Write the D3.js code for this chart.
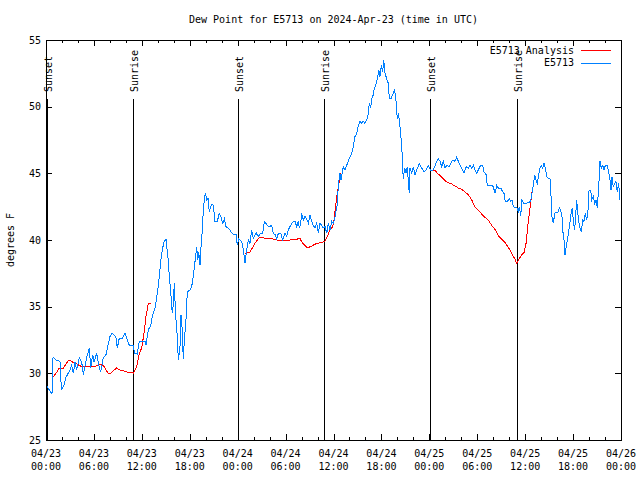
<!DOCTYPE html>
<html>
<head>
<meta charset="utf-8">
<script src="https://cdn.jsdelivr.net/npm/d3@7"></script>
<style>
  html, body { margin: 0; padding: 0; background: #fff; }
  svg { display: block; }
  text { font-family: "DejaVu Sans Mono", "Liberation Mono", monospace; font-size: 10px; fill: #000; }
</style>
</head>
<body>
<svg id="chart" width="640" height="480"></svg>
<script>
// ---------------- DATA ----------------
const title = "Dew Point for E5713 on 2024-Apr-23 (time in UTC)";
const yLabel = "degrees F";
const startUTC = Date.UTC(2024, 3, 23, 0, 0);   // 04/23 00:00 UTC
const spanHours = 72;
const yTicks = [25, 30, 35, 40, 45, 50, 55];
const seriesNames = ["E5713 Analysis", "E5713"];
const seriesColors = ["#ff0000", "#0080ff"];

// Observations (hours after start, degrees F)
const obsHours = [0.13,0.75,0.88,1.25,1.75,1.84,2.0,2.25,2.5,3.0,3.22,3.42,3.63,3.84,4.17,4.47,4.67,5.1,5.42,5.6,5.85,6.0,6.35,6.6,6.85,7.17,7.51,7.68,8.01,8.23,8.51,8.77,8.93,9.18,9.6,9.89,10.18,10.43,10.93,11.1,11.43,11.68,11.98,12.4,12.52,12.81,13.11,13.36,13.65,13.94,14.19,14.36,14.61,14.81,15.03,15.11,15.31,15.44,15.61,15.74,15.87,15.94,16.07,16.15,16.28,16.44,16.57,16.78,16.9,17.03,17.19,17.32,17.53,17.69,18.03,18.24,18.44,18.66,18.87,19.0,19.12,19.28,19.41,19.57,19.7,19.82,19.95,20.12,20.29,20.45,20.62,20.79,20.95,21.16,21.45,21.7,21.91,22.13,22.33,22.54,22.83,23.04,23.29,23.54,23.79,23.95,24.13,24.5,24.71,24.92,25.13,25.33,25.54,25.75,25.96,26.3,26.58,26.88,27.13,27.34,27.55,27.71,27.96,28.26,28.46,28.68,28.89,29.09,29.39,29.64,29.93,30.14,30.34,30.55,30.77,30.97,31.18,31.39,31.59,31.72,31.89,32.02,32.22,32.43,32.64,32.85,33.06,33.27,33.47,33.68,33.9,34.1,34.31,34.52,34.72,34.94,35.15,35.35,35.56,35.78,35.98,36.19,36.4,36.48,36.6,36.81,36.94,37.06,37.23,37.44,37.65,37.85,38.07,38.28,38.48,38.69,38.91,39.11,39.32,39.53,39.73,39.94,40.16,40.36,40.48,40.66,40.79,40.99,41.12,41.29,41.49,41.67,41.82,41.99,42.16,42.29,42.45,42.66,42.86,42.99,43.2,43.41,43.66,43.83,43.99,44.11,44.24,44.42,44.58,44.67,44.74,44.92,45.08,45.24,45.37,45.49,45.58,45.79,45.99,46.21,46.42,46.75,47.04,47.33,47.58,47.87,48.17,48.5,48.83,49.12,49.34,49.55,49.75,49.96,50.17,50.5,50.8,51.0,51.21,51.42,51.63,51.84,52.18,52.34,52.59,52.88,53.09,53.31,53.51,53.72,53.93,54.13,54.43,54.68,54.85,55.1,55.26,55.51,55.81,56.01,56.22,56.44,56.64,56.94,57.19,57.35,57.51,57.76,58.01,58.19,58.35,58.52,58.73,58.94,59.14,59.27,59.44,59.6,59.85,60.1,60.39,60.69,60.86,61.02,61.2,61.36,61.52,61.7,61.86,62.02,62.2,62.36,62.52,62.7,62.95,63.11,63.24,63.36,63.53,63.7,63.86,64.11,64.28,64.45,64.61,64.7,64.86,64.99,65.11,65.28,65.45,65.62,65.78,65.9,66.03,66.2,66.33,66.45,66.58,66.7,66.87,67.03,67.21,67.37,67.53,67.71,67.87,68.0,68.21,68.33,68.53,68.71,68.87,69.03,69.21,69.37,69.53,69.71,69.87,70.04,70.29,70.46,70.62,70.75,70.87,71.03,71.21,71.37,71.53,71.71,71.87];
const obsValues = [29.0,28.45,31.2,31.0,30.9,29.5,28.8,29.1,29.7,30.25,30.6,30.0,30.85,30.25,31.15,30.85,29.9,31.2,31.9,30.4,31.4,30.85,31.5,30.6,30.1,31.15,31.4,31.9,32.75,33.0,32.9,32.65,31.9,32.65,32.65,33.0,32.5,32.1,32.1,31.5,31.45,32.4,32.4,32.4,32.1,33.25,33.6,34.4,34.9,36.0,37.25,38.4,39.4,39.9,40.05,39.6,38.5,37.25,36.25,34.9,34.5,35.5,36.75,35.5,34.0,32.75,31.0,32.0,34.4,33.5,31.1,32.5,34.0,36.1,36.25,36.5,37.25,38.4,39.5,38.5,39.1,38.1,39.5,40.75,42.25,43.0,43.55,43.0,43.15,42.1,42.5,42.7,42.6,41.4,41.4,42.0,41.75,41.25,41.6,41.0,40.9,40.75,40.5,40.4,40.45,39.6,40.1,39.9,39.25,38.3,39.25,40.0,39.75,40.75,40.1,40.55,40.25,40.5,40.5,41.4,41.25,41.1,41.0,41.1,40.5,40.4,40.05,40.5,40.5,40.0,40.5,40.25,40.75,41.0,41.25,41.4,41.4,41.0,41.4,40.9,41.25,42.0,41.5,41.75,41.6,41.25,41.9,41.4,41.1,40.9,41.25,40.5,41.25,41.1,40.9,41.0,40.5,41.25,40.75,41.4,41.25,41.75,42.5,42.6,44.1,45.0,44.5,44.9,45.5,45.25,45.6,45.9,46.25,46.5,47.0,47.75,48.0,48.6,48.9,48.75,48.9,48.75,49.0,49.5,50.25,49.9,50.6,50.9,51.4,51.6,52.1,52.75,52.25,53.1,52.6,53.5,52.5,52.1,51.75,50.6,50.6,50.9,51.25,50.4,49.1,49.5,49.0,47.9,46.6,45.25,44.6,45.4,45.0,45.5,44.4,43.5,45.4,45.0,45.5,44.9,45.25,45.75,45.4,45.1,45.25,45.6,45.2,45.25,45.75,46.1,45.9,45.5,45.9,45.4,45.6,45.5,45.9,46.0,45.9,46.2,45.9,45.6,45.25,45.0,45.5,45.4,45.6,45.4,45.6,45.25,45.0,45.25,45.6,45.6,45.1,44.9,44.1,44.1,44.1,44.0,43.5,44.1,43.9,43.9,43.6,43.5,42.9,42.9,43.1,42.9,43.0,42.5,42.4,42.45,42.1,42.5,41.8,43.0,42.75,42.75,42.8,42.9,43.5,44.1,44.9,44.5,44.25,44.9,45.4,45.6,45.4,45.8,45.4,44.75,44.6,44.6,43.25,41.75,41.25,42.0,42.1,42.1,42.4,42.25,41.75,40.75,40.0,38.9,39.4,40.0,40.6,41.4,42.1,42.4,41.4,40.75,41.9,43.0,42.1,41.4,40.9,40.6,41.5,41.4,42.0,41.5,42.25,43.75,43.75,43.0,43.25,42.75,43.0,42.4,44.0,45.9,45.4,45.6,45.25,45.6,45.6,45.1,44.5,43.75,44.75,44.0,44.25,44.4,43.6,44.25,43.0];

// Analysis (null = gap)
const anaHours = [0.84,1.25,1.67,2.17,2.79,3.09,3.42,3.84,4.47,5.1,5.72,6.26,6.76,7.17,7.51,7.8,8.1,8.43,8.85,9.27,9.68,10.18,10.61,10.93,11.14,11.36,11.68,11.98,12.27,12.52,12.81,13.09,18.0,24.92,25.54,26.17,26.71,27.0,27.55,28.26,28.89,29.72,30.55,31.18,31.81,32.14,32.72,33.27,33.9,34.52,34.94,35.22,35.56,35.9,36.06,36.31,36.48,36.88,42.0,48.17,48.71,49.12,49.55,49.96,50.38,50.8,51.21,51.63,52.05,52.47,52.88,53.31,53.72,54.13,54.55,54.96,55.38,55.81,56.22,56.64,57.06,57.48,57.9,58.32,58.73,58.94,59.27,59.6,59.85,60.1,60.26,60.39,60.52,60.69,60.81,60.94];
const anaValues = [29.7,30.0,30.4,30.4,30.95,30.95,30.8,30.7,30.5,30.5,30.5,30.55,30.7,30.6,30.25,30.0,30.0,30.2,30.4,30.25,30.2,30.1,30.1,30.0,30.25,30.5,31.5,31.9,33.0,34.25,35.25,35.25,null,39.0,39.1,39.75,40.2,40.2,40.1,40.1,40.0,40.0,40.0,40.05,40.1,39.75,39.4,39.55,39.75,39.8,39.9,40.25,40.75,41.0,41.5,42.75,43.55,45.0,null,45.2,45.2,44.95,44.7,44.45,44.3,44.2,44.05,43.9,43.8,43.6,43.4,43.0,42.45,42.25,41.95,41.7,41.5,41.1,40.8,40.3,40.05,39.8,39.45,39.0,38.55,38.25,38.6,38.9,39.05,39.7,40.6,41.4,42.0,42.75,43.5,43.75];

// Sun events (hours after start)
const eventHours = [0.08, 10.92, 24.08, 34.8, 48.12, 58.94];
const eventLabels = ["Sunset", "Sunrise", "Sunset", "Sunrise", "Sunset", "Sunrise"];

// ---------------- CHART ----------------
const W = 640, H = 480;
const M = { left: 46, right: 19, top: 40, bottom: 40 };
const x0 = M.left, x1 = W - M.right, y0 = H - M.bottom, y1 = M.top;
const HOUR = 3600 * 1000;
const toDate = h => new Date(startUTC + h * HOUR);

const svg = d3.select("#chart");

const x = d3.scaleUtc().domain([toDate(0), toDate(spanHours)]).range([x0, x1]);
const y = d3.scaleLinear().domain([25, 55]).range([y0, y1]);

const obs = obsHours.map((h, i) => ({ t: toDate(h), v: obsValues[i] }));
const ana = anaHours.map((h, i) => ({ t: toDate(h), v: anaValues[i] }));

// Frame
svg.append("rect").attr("x", x0 + 0.5).attr("y", y1 + 0.5)
  .attr("width", x1 - x0).attr("height", y0 - y1)
  .attr("fill", "none").attr("stroke", "#000").attr("stroke-width", 1)
  .attr("shape-rendering", "crispEdges");

// X ticks (major every 6 h, minor every 2 h), on bottom and top
const majorTicks = d3.utcHour.every(6).range(toDate(0), toDate(spanHours + 0.01));
const minorTicks = d3.utcHour.every(2).range(toDate(0), toDate(spanHours + 0.01));
const tickG = svg.append("g").attr("stroke", "#000").attr("shape-rendering", "crispEdges");
minorTicks.forEach(t => {
  const isMajor = t.getUTCHours() % 6 === 0;
  const len = isMajor ? 6 : 3;
  const px = Math.round(x(t)) + 0.5;
  tickG.append("line").attr("x1", px).attr("x2", px).attr("y1", y0).attr("y2", y0 - len);
  tickG.append("line").attr("x1", px).attr("x2", px).attr("y1", y1).attr("y2", y1 + len);
});
// Y ticks on left and right
yTicks.forEach(v => {
  const py = Math.round(y(v)) + 0.5;
  tickG.append("line").attr("x1", x0).attr("x2", x0 + 6).attr("y1", py).attr("y2", py);
  tickG.append("line").attr("x1", x1).attr("x2", x1 - 6).attr("y1", py).attr("y2", py);
});

// X tick labels
const fmtDate = d3.utcFormat("%m/%d"), fmtTime = d3.utcFormat("%H:%M");
const xl = svg.append("g");
majorTicks.forEach(t => {
  const tx = xl.append("text").attr("x", x(t)).attr("text-anchor", "middle");
  tx.append("tspan").attr("x", x(t)).attr("y", 457).text(fmtDate(t));
  tx.append("tspan").attr("x", x(t)).attr("y", 470).text(fmtTime(t));
});
// Y tick labels
yTicks.forEach(v => {
  svg.append("text").attr("x", x0 - 5).attr("y", y(v)).attr("dy", "0.35em")
    .attr("text-anchor", "end").text(v);
});

// Title and axis label
svg.append("text").attr("x", (x0 + x1) / 2).attr("y", 23).attr("text-anchor", "middle").text(title);
svg.append("text").attr("transform", `translate(14,${(y0 + y1) / 2}) rotate(-90)`)
  .attr("text-anchor", "middle").text(yLabel);

// Sun event lines and labels
const ev = svg.append("g");
eventHours.forEach((h, i) => {
  const px = Math.round(x(toDate(h))) + 0.5;
  ev.append("line").attr("x1", px).attr("x2", px).attr("y1", 99).attr("y2", y0)
    .attr("stroke", "#000").attr("shape-rendering", "crispEdges");
  ev.append("text").attr("transform", `translate(${px + 4},92) rotate(-90)`)
    .attr("text-anchor", "start").text(eventLabels[i]);
});

// Series lines
const line = d3.line().defined(d => d.v != null).x(d => x(d.t)).y(d => y(d.v));
svg.append("path").datum(ana).attr("d", line).attr("fill", "none")
  .attr("stroke", seriesColors[0]).attr("stroke-width", 1).attr("shape-rendering", "crispEdges");
svg.append("path").datum(obs).attr("d", line).attr("fill", "none")
  .attr("stroke", seriesColors[1]).attr("stroke-width", 1).attr("shape-rendering", "crispEdges");

// Legend
const lg = svg.append("g");
seriesNames.forEach((name, i) => {
  const ly = 50 + i * 12.5;
  lg.append("text").attr("x", 574).attr("y", ly).attr("dy", "0.35em")
    .attr("text-anchor", "end").text(name);
  lg.append("line").attr("x1", 581).attr("x2", 611).attr("y1", Math.round(ly) + 0.5).attr("y2", Math.round(ly) + 0.5)
    .attr("stroke", seriesColors[i]).attr("shape-rendering", "crispEdges");
});
</script>
</body>
</html>
